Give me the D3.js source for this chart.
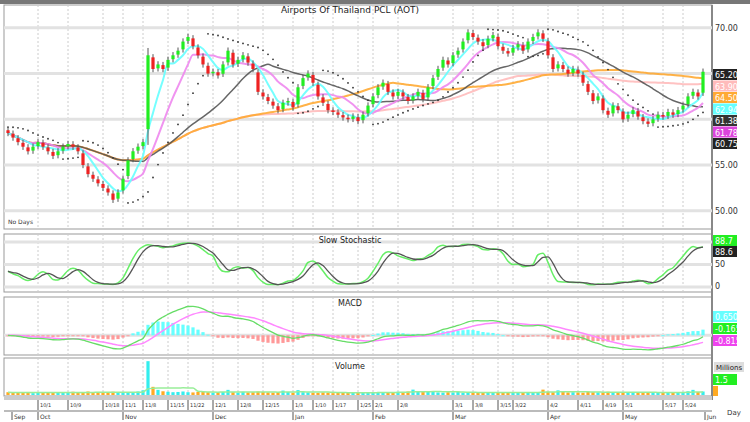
<!DOCTYPE html>
<html>
<head>
<meta charset="utf-8">
<script src="https://cdn.jsdelivr.net/npm/d3@7"></script>
<style>
body { margin: 0; background: #fff; }
text { font-family: "DejaVu Sans", sans-serif; }
</style>
</head>
<body>
<script>
// DATA
var closes = [
	58.5, 58, 57.5, 57, 56.5, 57, 57.5, 57, 56.5, 56, 56.5,
	57, 57.3, 57, 56.5, 55, 54, 53.5, 53, 52.5, 52, 51.2, 52,
	53.5, 55.5, 56.5, 57, 57.5, 67,
	65.5, 66, 65.5, 66.5, 67, 67.5, 68.5, 69, 68, 67, 66, 65,
	65.2, 64.8, 66, 67.5, 66, 66.5, 67, 66.2, 65.5, 63, 62.5, 62,
	61.5, 61, 61.8, 62, 61.3, 63.5, 64.5, 65, 64, 62.5, 61.8, 61, 60.8, 60.5, 60.2, 60, 60.3, 59.8,
	60.5, 61.5, 62.5, 63.5, 64, 63, 62.5, 63, 62.5, 62, 62.5, 63, 62.2, 63.5, 64.5, 65.5, 66.5, 66,
	67, 67.5, 68.5, 69.5, 69, 68.5, 68, 68.8, 69.2, 68, 67.5, 67.2,
	67.8, 68.2, 67.5, 68.5, 69, 69.5, 68.8, 67, 65.5, 66, 65.5, 65,
	65.5, 65, 64, 63, 62, 62.5, 61, 60.5, 61.5, 61, 60, 60.5, 61, 60.3, 59.8, 59.5, 60, 60.5,
	60.3, 60.8, 60.5, 61, 61.5, 62.5, 63, 62.5, 65.2
]
var volumes = [
	1.2, 1.0, 0.9, 1.1, 1.3, 0.8, 1.0, 1.2, 0.9, 1.0, 1.1,
	0.9, 1.0, 1.4, 1.0, 1.2, 1.5, 1.1, 1.3, 1.0, 1.2, 1.4, 1.1,
	1.3, 1.2, 1.0, 1.5, 2.0, 14.5,
	3.5, 2.2, 1.6, 1.4, 1.2, 1.3, 1.5, 1.2, 1.1, 1.3, 1.4, 1.2,
	1.0, 1.1, 1.3, 2.2, 1.2, 1.0, 1.4, 1.1, 1.2, 1.5, 1.3, 1.1,
	1.0, 1.2, 1.9, 1.3, 1.0, 2.1, 1.2, 1.1, 1.0, 0.9, 1.1, 1.0, 0.8, 1.0, 0.9, 1.1, 1.0, 0.9,
	1.1, 1.2, 1.0, 1.3, 1.1, 1.0, 1.2, 1.4, 1.3, 1.5, 2.3, 1.4, 1.3, 1.6, 1.5, 1.1, 1.0, 1.2,
	1.1, 1.3, 1.0, 0.9, 1.0, 1.1, 1.2, 1.0, 0.9, 1.1, 1.0, 1.2,
	1.1, 1.0, 1.2, 1.3, 1.1, 1.0, 2.3, 1.4, 1.2, 2.0, 1.3, 1.1,
	1.2, 1.1, 1.0, 1.3, 1.2, 1.1, 1.0, 1.4, 1.2, 1.1, 1.0, 1.2, 1.3, 1.1, 1.0, 1.2, 1.1, 1.0,
	1.1, 1.0, 1.2, 1.1, 1.3, 1.6, 2.2, 1.3, 1.5
]
var tickBars = [6, 12, 19, 23, 27, 32, 36, 41, 46, 51, 57, 61, 65, 70, 73, 78, 89, 93, 98, 101, 108, 114, 119, 123, 131, 135]
var tickLabels = ["10/1", "10/9", "10/18", "11/1", "11/8", "11/15", "11/22", "12/1", "12/8", "12/15", "1/3", "1/10", "1/17", "1/25", "2/1", "2/8", "3/1", "3/8", "3/15", "3/22", "4/2", "4/11", "4/19", "5/1", "5/17", "5/24"]
var monthBars = [0.8, 6, 23, 41, 57, 73, 89, 108, 123, 139.4]
var monthLabels = ["Sep", "Oct", "Nov", "Dec", "Jan", "Feb", "Mar", "Apr", "May", "Jun"]
var maPeriods = [5, 10, 25, 50, 75]
var maColors = ["#66ffff", "#ee88ee", "#555555", "#ffaa33", "#ffbbbb"]

// derived series
var n = closes.length
var opens = closes.map(function(c, i) { return i ? closes[i - 1] + (c - closes[i - 1]) * 0.15 : c + 0.3 })
var highs = closes.map(function(c, i) { return Math.max(c, opens[i]) + 0.35 })
var lows = closes.map(function(c, i) { return Math.min(c, opens[i]) - 0.35 })
highs[28] = 67.8; lows[28] = 57.2

function sma(arr, p) {
	return arr.map(function(v, i) {
		var a = arr.slice(Math.max(0, i - p + 1), i + 1)
		return d3.mean(a)
	})
}
function ema(arr, p) {
	var k = 2 / (p + 1), out = []
	arr.forEach(function(v, i) { out.push(i ? v * k + out[i - 1] * (1 - k) : v) })
	return out
}
var mas = maPeriods.map(function(p) { return sma(closes, p) })

var rawK = closes.map(function(c, i) {
	var hh = d3.max(highs.slice(Math.max(0, i - 13), i + 1))
	var ll = d3.min(lows.slice(Math.max(0, i - 13), i + 1))
	return hh == ll ? 50 : (c - ll) / (hh - ll) * 100
})
var stK = sma(rawK, 3), stD = sma(stK, 3)

var e12 = ema(closes, 12), e26 = ema(closes, 26)
var macd = e12.map(function(v, i) { return v - e26[i] })
var signal = ema(macd, 9)
var hist = macd.map(function(v, i) { return v - signal[i] })
var volMa = sma(volumes, 10)

// parabolic SAR
var sar = [], up = false, af = 0.02, ep = lows[0], s = highs[0]
for (var i = 0; i < n; i++) {
	if (i > 0) {
		s = s + af * (ep - s)
		if (up && lows[i] < s) { up = false; s = ep; ep = lows[i]; af = 0.02 }
		else if (!up && highs[i] > s) { up = true; s = ep; ep = highs[i]; af = 0.02 }
		else if (up && highs[i] > ep) { ep = highs[i]; af = Math.min(0.2, af + 0.02) }
		else if (!up && lows[i] < ep) { ep = lows[i]; af = Math.min(0.2, af + 0.02) }
	}
	sar.push(s)
}

// LAYOUT
var W = 750, H = 422, L = 4, R = 712
var svg = d3.select("body").append("svg").attr("width", W).attr("height", H)
svg.append("rect").attr("width", W).attr("height", H).attr("fill", "#fff")
svg.append("rect").attr("width", W).attr("height", 4).attr("fill", "#777")

var x = d3.scaleLinear().domain([-0.8, 140.8]).range([L, R])
var panels = [
	{ top: 5, bottom: 229 },
	{ top: 234, bottom: 292 },
	{ top: 297, bottom: 355 },
	{ top: 358, bottom: 396 }
]

panels.forEach(function(p) {
	svg.append("rect").attr("x", L).attr("y", p.top).attr("width", R - L).attr("height", p.bottom - p.top)
		.attr("fill", "#fff").attr("stroke", "#999")
	tickBars.forEach(function(b) {
		svg.append("line").attr("x1", x(b)).attr("x2", x(b)).attr("y1", p.top).attr("y2", p.bottom)
			.attr("stroke", "#ccc").attr("stroke-dasharray", "2,2")
	})
})
svg.append("line").attr("x1", R).attr("x2", R).attr("y1", 5).attr("y2", 400).attr("stroke", "#888").attr("stroke-width", 2)

function hband(y, top, bottom) {
	svg.append("line").attr("x1", L).attr("x2", R).attr("y1", y).attr("y2", y).attr("stroke", "#e2e2e2").attr("stroke-width", 3)
}
function rlabel(y, t, bg, fg) {
	var g = svg.append("g")
	if (bg) g.append("rect").attr("x", R + 1).attr("y", y - 6).attr("width", 24).attr("height", 11).attr("fill", bg)
	g.append("text").attr("x", R + 3).attr("y", y + 3).attr("font-size", 8).attr("fill", fg || "#333").text(t)
}

// MAIN PRICE PANEL
var y = d3.scaleLinear().domain([48, 72.5]).range([229, 5])
;[70, 65, 60, 55, 50].forEach(function(v) { hband(y(v)) })
var priceClip = svg.append("clipPath").attr("id", "pc").append("rect").attr("x", L).attr("y", 5).attr("width", R - L).attr("height", 224)
var gm = svg.append("g").attr("clip-path", "url(#pc)")

var line = d3.line().x(function(d, i) { return x(i) }).curve(d3.curveMonotoneX)
mas.slice().reverse().forEach(function(m, k) {
	var idx = mas.length - 1 - k
	gm.append("path").attr("d", line.y(function(d) { return y(d) })(m))
		.attr("fill", "none").attr("stroke", maColors[idx]).attr("stroke-width", idx == 2 ? 1.5 : 2).attr("opacity", 0.9)
})
gm.selectAll(".sar").data(sar).enter().append("circle")
	.attr("cx", function(d, i) { return x(i) }).attr("cy", function(d) { return y(d) })
	.attr("r", 0.9).attr("fill", "#333")

var bw = 3.2
gm.selectAll(".wick").data(closes).enter().append("line")
	.attr("x1", function(d, i) { return x(i) }).attr("x2", function(d, i) { return x(i) })
	.attr("y1", function(d, i) { return y(highs[i]) }).attr("y2", function(d, i) { return y(lows[i]) })
	.attr("stroke", "#555")
gm.selectAll(".body").data(closes).enter().append("rect")
	.attr("x", function(d, i) { return x(i) - bw / 2 })
	.attr("y", function(d, i) { return y(Math.max(d, opens[i])) })
	.attr("width", bw)
	.attr("height", function(d, i) { return Math.max(1, Math.abs(y(d) - y(opens[i]))) })
	.attr("fill", function(d, i) { return d >= opens[i] ? "#22ee22" : "#ee2222" })

svg.append("text").attr("x", 350).attr("y", 13).attr("text-anchor", "middle").attr("font-size", 9).attr("fill", "#222")
	.text("Airports Of Thailand PCL (AOT)")
svg.append("text").attr("x", 8).attr("y", 224).attr("font-size", 6).attr("fill", "#333").text("No Days")

;[[70, "70.00"], [55, "55.00"], [50, "50.00"]].forEach(function(d) { rlabel(y(d[0]), d[1]) })
var tags = [
	{ v: closes[n - 1], bg: "#222", fg: "#fff" },
	{ v: mas[4][n - 1], bg: "#ffbbbb", fg: "#fff" },
	{ v: mas[3][n - 1], bg: "#ffaa33", fg: "#fff" },
	{ v: mas[0][n - 1], bg: "#66ffff", fg: "#fff" },
	{ v: mas[2][n - 1], bg: "#333", fg: "#fff" },
	{ v: mas[1][n - 1], bg: "#dd44dd", fg: "#fff" },
	{ v: sar[n - 1], bg: "#222", fg: "#fff" }
]
tags.forEach(function(t, k) { rlabel(75 + k * 11.5, t.v.toFixed(2), t.bg, t.fg) })

// STOCHASTIC
var ys = d3.scaleLinear().domain([0, 100]).range([287, 242])
;[100, 50, 0].forEach(function(v) { hband(ys(v)) })
svg.append("path").attr("d", line.y(function(d) { return ys(d) })(stK)).attr("fill", "none").attr("stroke", "#66ee66").attr("stroke-width", 1.5)
svg.append("path").attr("d", line.y(function(d) { return ys(d) })(stD)).attr("fill", "none").attr("stroke", "#555").attr("stroke-width", 1.3)
svg.append("text").attr("x", 350).attr("y", 243).attr("text-anchor", "middle").attr("font-size", 8).attr("fill", "#222").text("Slow Stochastic")
rlabel(241, stK[n - 1].toFixed(1), "#22ee22", "#fff")
rlabel(252, stD[n - 1].toFixed(1), "#222", "#fff")
rlabel(264, "50")
rlabel(286, "0")

// MACD
var mext = d3.extent(macd.concat(signal, hist))
var ym = d3.scaleLinear().domain([mext[0] * 1.15, mext[1] * 1.15]).range([352, 302])
hband(ym(0))
svg.selectAll(".hist").data(hist).enter().append("rect")
	.attr("x", function(d, i) { return x(i) - 1.6 }).attr("width", 3.2)
	.attr("y", function(d) { return d > 0 ? ym(d) : ym(0) })
	.attr("height", function(d) { return Math.max(1, Math.abs(ym(d) - ym(0))) })
	.attr("fill", function(d) { return d > 0 ? "#66ffff" : "#ff9999" })
svg.append("path").attr("d", line.y(function(d) { return ym(d) })(signal)).attr("fill", "none").attr("stroke", "#ff88ff").attr("stroke-width", 1.5)
svg.append("path").attr("d", line.y(function(d) { return ym(d) })(macd)).attr("fill", "none").attr("stroke", "#66dd66").attr("stroke-width", 1.3)
svg.append("text").attr("x", 350).attr("y", 306).attr("text-anchor", "middle").attr("font-size", 8).attr("fill", "#222").text("MACD")
rlabel(317, hist[n - 1].toFixed(3), "#66ffff", "#fff")
rlabel(329, macd[n - 1].toFixed(3), "#22ee22", "#fff")
rlabel(341, signal[n - 1].toFixed(3), "#ee44ee", "#fff")

// VOLUME
var yv = d3.scaleLinear().domain([0, 15]).range([395, 360])
svg.selectAll(".vol").data(volumes).enter().append("rect")
	.attr("x", function(d, i) { return x(i) - 1.6 }).attr("width", 3.2)
	.attr("y", function(d) { return yv(d) }).attr("height", function(d) { return 395 - yv(d) })
	.attr("fill", function(d, i) { return closes[i] >= opens[i] ? "#33eeee" : "#ffaa22" })
svg.append("path").attr("d", line.y(function(d) { return yv(d) })(volMa)).attr("fill", "none").attr("stroke", "#99ee99").attr("stroke-width", 1.5)
svg.append("text").attr("x", 350).attr("y", 369).attr("text-anchor", "middle").attr("font-size", 8).attr("fill", "#222").text("Volume")
svg.append("rect").attr("x", R + 2).attr("y", 362).attr("width", 30).attr("height", 10).attr("fill", "#ddd")
svg.append("text").attr("x", R + 4).attr("y", 370).attr("font-size", 7).attr("fill", "#222").text("Millions")
rlabel(380, volumes[n - 1].toFixed(1), "#22ee22", "#fff")
svg.append("rect").attr("x", R + 1).attr("y", 386).attr("width", 5).attr("height", 10).attr("fill", "#ffaa22")

// X AXIS
svg.append("rect").attr("x", L).attr("y", 396).attr("width", R - L).attr("height", 4).attr("fill", "#ccc")
svg.append("line").attr("x1", L).attr("x2", R).attr("y1", 411).attr("y2", 411).attr("stroke", "#bbb").attr("stroke-width", 2)
tickBars.forEach(function(b, k) {
	svg.append("line").attr("x1", x(b)).attr("x2", x(b)).attr("y1", 400).attr("y2", 410).attr("stroke", "#555")
	svg.append("text").attr("x", x(b) + 2).attr("y", 407).attr("font-size", 5).attr("fill", "#333").text(tickLabels[k])
})
monthBars.forEach(function(b, k) {
	svg.append("line").attr("x1", x(b)).attr("x2", x(b)).attr("y1", 412).attr("y2", 420).attr("stroke", "#555")
	svg.append("text").attr("x", x(b) + 2).attr("y", 419).attr("font-size", 6).attr("fill", "#333").text(monthLabels[k])
})
svg.append("text").attr("x", 727).attr("y", 415).attr("font-size", 7).attr("fill", "#333").text("Day")
</script>
</body>
</html>
